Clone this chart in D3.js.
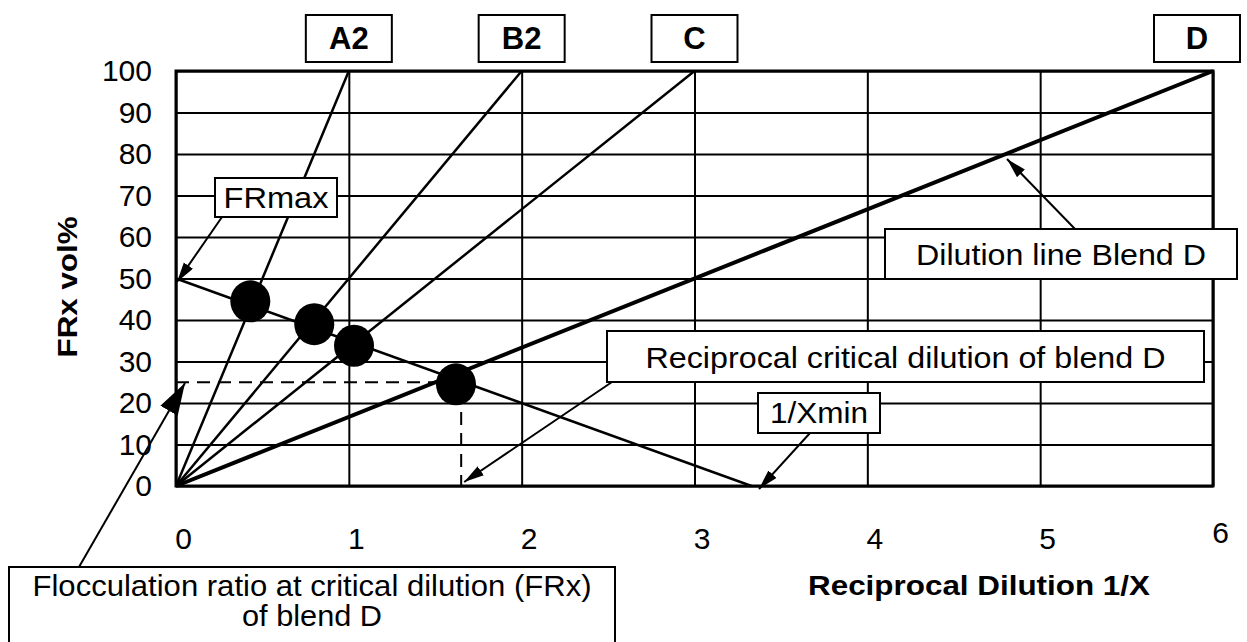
<!DOCTYPE html>
<html>
<head>
<meta charset="utf-8">
<script src="https://cdn.jsdelivr.net/npm/d3@7"></script>
<style>
  html, body { margin: 0; padding: 0; background: #fff; }
  svg text { font-family: "Liberation Sans", Arial, sans-serif; fill: #000; }
</style>
</head>
<body>
<svg id="chart" width="1247" height="642"></svg>
<script>
// axis ticks
const xTicks = [0, 1, 2, 3, 4, 5, 6];
const yTicks = [0, 10, 20, 30, 40, 50, 60, 70, 80, 90, 100];

// dilution lines: each runs from the origin to (endX, 100)
const blends = ["A2", "B2", "C", "D"];
const blendEndX = [1, 2, 3, 6];

// critical line from FRmax down to 1/Xmin
const critX = [0, 3.33];
const critY = [50, 0];

// points where the dilution lines meet the critical line
const pointX = [0.43, 0.8, 1.03, 1.62];
const pointY = [44.5, 39, 33.8, 24.5];

// critical dilution of blend D (dashed guide)
const critRecipD = 1.65;
const critFRxD = 25;

const svg = d3.select("#chart");

const x = d3.scaleLinear().domain([0, 6]).range([176, 1213]);
const y = d3.scaleLinear().domain([0, 100]).range([486, 71]);

// markers for the call-out arrows
const defs = svg.append("defs");
function marker(id, len, wid) {
  defs.append("marker")
    .attr("id", id)
    .attr("markerUnits", "userSpaceOnUse")
    .attr("markerWidth", len + 2).attr("markerHeight", wid + 2)
    .attr("refX", len).attr("refY", wid / 2)
    .attr("orient", "auto")
    .append("path")
    .attr("d", `M0,0 L${len},${wid / 2} L0,${wid} Z`)
    .attr("fill", "#000");
}
marker("arrow", 20, 11);
marker("bigArrow", 32, 20);

// grid + tick labels
const gx = svg.append("g")
  .attr("transform", `translate(0,${y(0)})`)
  .call(d3.axisBottom(x).tickValues(xTicks).tickSize(-(y(0) - y(100))).tickPadding(42).tickFormat(d3.format("d")));
const gy = svg.append("g")
  .attr("transform", `translate(${x(0)},0)`)
  .call(d3.axisLeft(y).tickValues(yTicks).tickSize(-(x(6) - x(0))).tickPadding(24).tickFormat(d3.format("d")));

[gx, gy].forEach(g => {
  g.select(".domain").remove();
  g.selectAll(".tick line").attr("stroke", "#000").attr("stroke-width", 2);
  g.selectAll(".tick text")
    .attr("font-size", 30)
    .attr("font-family", "'Liberation Sans', Arial, sans-serif")
    .attr("fill", "#000");
});
gx.selectAll(".tick text").attr("dx", 7);
gx.selectAll(".tick text").filter(d => d === 6).attr("dy", "0.5em");

// frame
svg.append("rect")
  .attr("x", x(0)).attr("y", y(100))
  .attr("width", x(6) - x(0)).attr("height", y(0) - y(100))
  .attr("fill", "none").attr("stroke", "#000").attr("stroke-width", 3);

// dilution lines
svg.append("g").selectAll("line")
  .data(blends)
  .join("line")
  .attr("x1", x(0)).attr("y1", y(0))
  .attr("x2", (d, i) => x(blendEndX[i])).attr("y2", y(100))
  .attr("stroke", "#000")
  .attr("stroke-width", d => d === "D" ? 4 : 2.5);

// critical line
svg.append("line")
  .attr("x1", x(critX[0])).attr("y1", y(critY[0]))
  .attr("x2", x(critX[1])).attr("y2", y(critY[1]))
  .attr("stroke", "#000").attr("stroke-width", 2.5);

// dashed guides to the axes
svg.append("path")
  .attr("d", `M${x(0)},${y(critFRxD)} H${x(critRecipD)} V${y(0)}`)
  .attr("fill", "none").attr("stroke", "#000").attr("stroke-width", 2)
  .attr("stroke-dasharray", "13,8");

// intersection points
svg.append("g").selectAll("ellipse")
  .data(pointX)
  .join("ellipse")
  .attr("cx", d => x(d))
  .attr("cy", (d, i) => y(pointY[i]))
  .attr("rx", 20).attr("ry", 21)
  .attr("fill", "#000");

// boxed labels; lines = [[text, baselineY, width]]
function box(x0, y0, w, h, lines, opts = {}) {
  const g = svg.append("g");
  g.append("rect")
    .attr("x", x0).attr("y", y0).attr("width", w).attr("height", h)
    .attr("fill", "#fff").attr("stroke", "#000").attr("stroke-width", 2);
  lines.forEach(([t, by, tw]) => {
    const txt = g.append("text")
      .attr("x", x0 + w / 2)
      .attr("y", by)
      .attr("text-anchor", "middle")
      .attr("font-size", opts.size || 29)
      .attr("font-weight", opts.bold ? "bold" : "normal")
      .text(t);
    if (tw) txt.attr("textLength", tw).attr("lengthAdjust", "spacingAndGlyphs");
  });
}

function arrow(x1, y1, x2, y2, id = "arrow") {
  svg.append("line")
    .attr("x1", x1).attr("y1", y1).attr("x2", x2).attr("y2", y2)
    .attr("stroke", "#000").attr("stroke-width", 2)
    .attr("marker-end", `url(#${id})`);
}

// blend name boxes above the ends of the lines
blends.forEach((b, i) => {
  const cx = Math.min(x(blendEndX[i]), 1197);
  box(cx - 43, 15, 86, 47, [[b, 49]], { bold: true, size: 31 });
});

box(215, 178, 122, 39, [["FRmax", 208, 105]]);
arrow(222, 217, 177, 282);

box(885, 229, 352, 50, [["Dilution line Blend D", 265, 290]]);
arrow(1075, 229, 1007, 159);

box(607, 331, 597, 51, [["Reciprocal critical dilution of blend D", 368, 520]]);
arrow(612, 382, x(critRecipD) + 3, y(0) - 4);

box(758, 393, 122, 40, [["1/Xmin", 423, 98]]);
arrow(810, 433, 759, 489);

box(9, 567, 606, 78, [["Flocculation ratio at critical dilution (FRx)", 596, 559], ["of blend D", 626, 140]]);
arrow(79, 567, 185, 383, "bigArrow");

// axis titles
svg.append("text")
  .attr("x", 979).attr("y", 595)
  .attr("text-anchor", "middle")
  .attr("font-size", 28).attr("font-weight", "bold")
  .attr("textLength", 342).attr("lengthAdjust", "spacingAndGlyphs")
  .text("Reciprocal Dilution 1/X");

svg.append("text")
  .attr("transform", "translate(67,287) rotate(-90)")
  .attr("dy", "0.35em")
  .attr("text-anchor", "middle")
  .attr("font-size", 28).attr("font-weight", "bold")
  .attr("textLength", 141).attr("lengthAdjust", "spacingAndGlyphs")
  .text("FRx vol%");
</script>
</body>
</html>
